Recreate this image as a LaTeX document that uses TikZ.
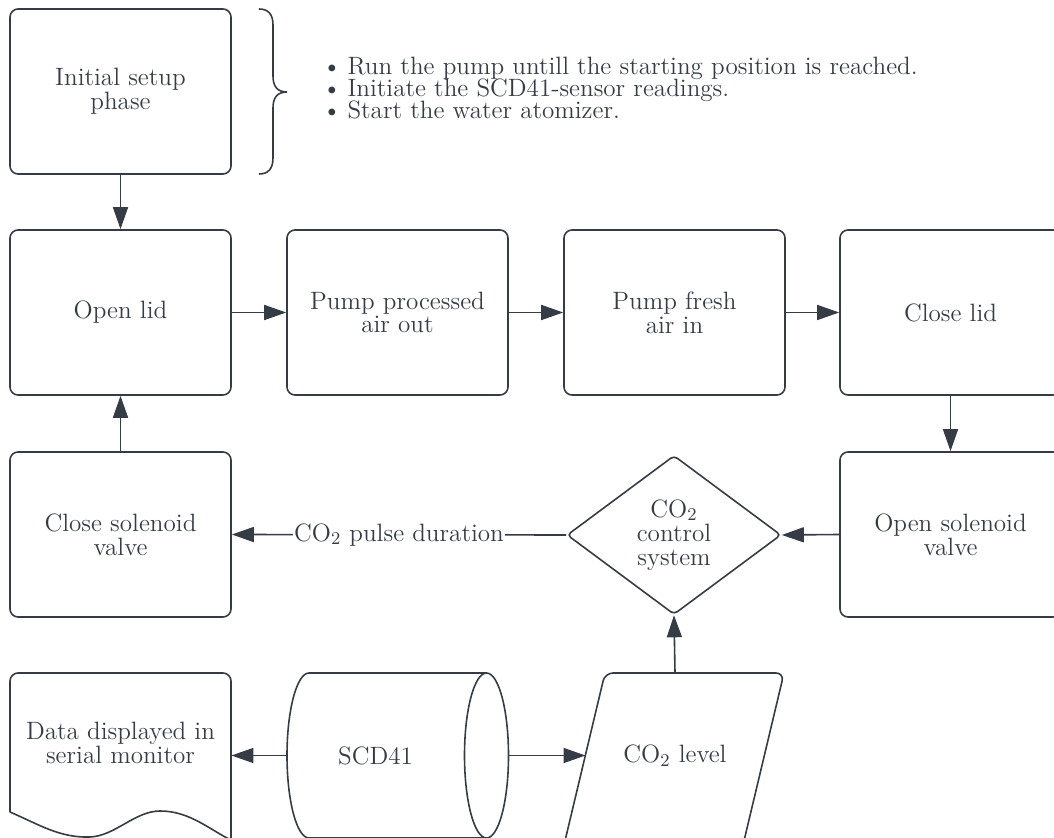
\documentclass[tikz,border=0pt]{standalone}
\usetikzlibrary{arrows.meta,shapes.geometric}
\definecolor{ink}{HTML}{363C45}
\begin{document}
\begin{tikzpicture}[x=0.5pt,y=-0.5pt,
  base/.style={font=\fontsize{12.55}{11.8}\selectfont, text=ink, align=center},
  box/.style={base, draw=ink, line width=0.8pt, rounded corners=4pt, minimum width=110.5pt, minimum height=82.5pt, inner sep=0pt},
  ghost/.style={minimum width=110.5pt, minimum height=82.5pt, inner sep=0pt},
  shp/.style={draw=ink, line width=0.8pt},
  arr/.style={draw=ink, line width=0.8pt, -{Triangle[length=11pt,width=7.5pt]}},
  bul/.style={base, anchor=base west, inner sep=0pt}]
\useasboundingbox (0,0) rectangle (1054,838);
\clip (0,0) rectangle (1054,838);

% boxes
\node[box] (init) at (120.5,91.5) {Initial setup\\phase};
\node[box] (open) at (120.5,312.5) {Open lid};
\node[box] (pout) at (397.5,312.5) {Pump processed\\air out};
\node[box] (pin) at (674.5,312.5) {Pump fresh\\air in};
\node[box] (close) at (950.5,312.5) {Close lid};
\node[box] (csol) at (120.5,534.5) {Close solenoid\\valve};
\node[box] (osol) at (950.5,534.5) {Open solenoid\\valve};
\node[base, diamond, draw=ink, line width=0.8pt, rounded corners=2pt, minimum width=107pt, minimum height=79.5pt, inner sep=0pt, font=\fontsize{12.55}{12}\selectfont] (ctrl) at (674,535) {CO$_2$\\control\\system};

% brace and bullets
\draw[shp] (259,9) .. controls (268,9) and (273,14) .. (273,25) -- (273,76)
  .. controls (273,86) and (277,92) .. (287,92)
  .. controls (277,92) and (273,98) .. (273,108) -- (273,158)
  .. controls (273,169) and (268,174) .. (259,174);
\node[bul] (b1) at (322,75) {\textbullet\hspace{3pt}Run the pump untill the starting position is reached.};
\node[bul] (b2) at (322,96.7) {\textbullet\hspace{3pt}Initiate the SCD41-sensor readings.};
\node[bul] (b3) at (322,118.3) {\textbullet\hspace{3pt}Start the water atomizer.};

% document shape
\node[ghost] (doc) at (120.5,755.5) {};
\draw[shp] (10,812) [rounded corners=4pt] -- (10,673) -- (231,673) [sharp corners] -- (231,840)
  .. controls (210,830) and (190,811) .. (160,811)
  .. controls (135,811) and (115,836) .. (90,837)
  .. controls (60,838) and (40,825) .. (10,812);
\node[base] (doclbl) at (120.5,743) {Data displayed in\\serial monitor};

% cylinder
\node[ghost] (scd) at (397.5,755.5) {};
\draw[shp] (309,673) -- (486.5,673);
\draw[shp] (309,673) arc[start angle=90, end angle=270, x radius=11pt, y radius=41.25pt] -- (486.5,838);
\draw[shp] (486.5,755.5) ellipse [x radius=11pt, y radius=41.25pt];
\node[base] (scdlbl) at (375.5,755.5) {SCD41};

% parallelogram
\node[ghost] (lvl) at (675,755.5) {};
\draw[shp, rounded corners=4pt] (605,673) -- (784,673) -- (743,845) -- (564,845) -- cycle;
\node[base] (lvllbl) at (675,755.5) {CO$_2$ level};
\coordinate (lvlin) at (585.5,755.5);

% connectors
\draw[arr] (init.south) -- (open.north);
\draw[arr] (open.east) -- (pout.west);
\draw[arr] (pout.east) -- (pin.west);
\draw[arr] (pin.east) -- (close.west);
\draw[arr] (close.south) -- (osol.north);
\draw[arr] (osol.west) -- (ctrl.east);
\draw[arr] (ctrl.west) -- node[base, fill=white, inner sep=0.5pt] (pulse) {CO$_2$ pulse duration} (csol.east);
\draw[arr] (csol.north) -- (open.south);
\draw[arr] (scd.west) -- (doc.east);
\draw[arr] (scd.east) -- (lvlin);
\draw[arr] (lvl.north) -- (ctrl.south);
\end{tikzpicture}
\end{document}
